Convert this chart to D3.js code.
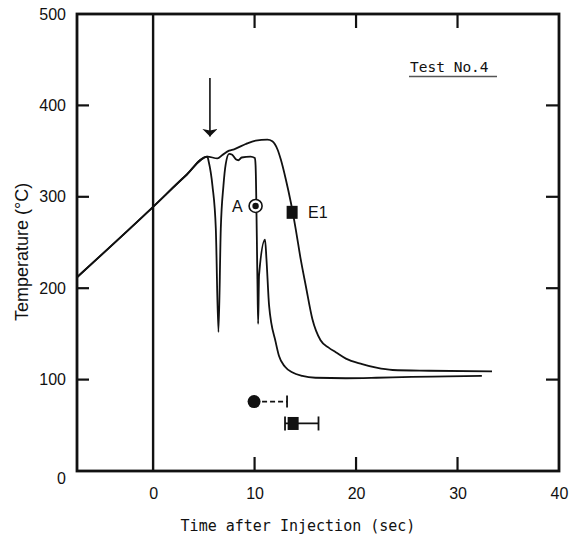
<!DOCTYPE html>
<html>
<head>
<meta charset="utf-8">
<script src="https://cdn.jsdelivr.net/npm/d3@7"></script>
<style>
  body { margin: 0; background: #fff; }
  svg { display: block; }
  .tick text { font-family: "Liberation Sans", Arial, sans-serif; font-size: 16px; fill: #111; }
</style>
</head>
<body>
<svg width="580" height="546"></svg>
<script>
// shared heating ramp before injection splits the two traces
const riseT = [-7.5, 0, 3.2, 5.35];
const riseV = [212, 289, 323, 344];

// thermocouple A (lower trace)
const lowerT = [5.46, 5.85, 6.18, 6.44, 6.67, 6.93, 7.16, 7.49, 7.8, 8.15, 8.4, 8.73, 9.6, 10.03, 10.1,
  10.28, 10.35, 10.44, 11.03, 11.17, 11.43, 12.08, 12.4, 13.0, 13.7, 14.7, 16, 19, 22, 25.5, 29, 32.4];
const lowerV = [339.5, 312, 265, 152, 265, 312, 336, 347, 346, 341, 340, 343, 344, 342.5, 334,
  210, 161, 214, 253, 232, 181, 141, 126, 114, 108, 104, 102, 101.5, 102, 103, 103.5, 104];

// thermocouple E1 (upper trace)
const upperT = [6.34, 6.83, 7.49, 7.98, 9.13, 10.1, 11.26, 11.75, 12.25, 12.58, 13.07, 13.57, 14.05,
  14.54, 15.04, 15.7, 16.5, 17.3, 18, 19, 20.6, 22, 23.6, 27.2, 33.4];
const upperV = [342, 345.7, 350.5, 352, 357.8, 361.4, 362.5, 360.7, 352, 341, 319.5, 294, 265,
  232, 203, 166, 143, 135, 130, 123, 117, 113, 110.5, 109.7, 109];

// quench points and their spread bars
const pointLabels = ['A', 'E1'];
const pointT = [10.1, 13.7];
const pointV = [290, 283];
const barT = [9.95, 13.8];
const barLo = [9.95, 13.0];
const barHi = [13.2, 16.3];
const barV = [76, 52];

const arrowT = 5.6;
const arrowFrom = 430;
const arrowTo = 366;

const xTicks = [0, 10, 20, 30, 40];
const yTicks = [0, 100, 200, 300, 400, 500];

const [plotLeft, plotRight, plotTop, plotBottom] = [77, 559, 14, 471];

const svg = d3.select('svg');

const x = d3.scaleLinear().domain([-7.5, 40]).range([plotLeft, plotRight]);
const y = d3.scaleLinear().domain([0, 500]).range([plotBottom, plotTop]);

// tick labels (outside) and inward tick marks
svg.append('g')
    .attr('transform', `translate(${plotLeft},0)`)
    .call(d3.axisLeft(y).tickValues(yTicks).tickSize(0).tickPadding(11))
    .call(g => g.select('.domain').remove())
    .call(g => g.selectAll('.tick').filter(d => d === 0).select('text').attr('dy', '0.75em'));

svg.append('g')
    .attr('transform', `translate(0,${plotBottom})`)
    .call(d3.axisBottom(x).tickValues(xTicks).tickSize(0).tickPadding(17))
    .call(g => g.select('.domain').remove());

const ticks = svg.append('g').attr('stroke', '#111').attr('stroke-width', 2.2);
const inner = [100, 200, 300, 400];
ticks.selectAll('.yl').data(inner).join('line')
    .attr('x1', plotLeft).attr('x2', plotLeft + 12)
    .attr('y1', d => y(d)).attr('y2', d => y(d));
ticks.selectAll('.yr').data(inner).join('line')
    .attr('x1', plotRight).attr('x2', plotRight - 13)
    .attr('y1', d => y(d)).attr('y2', d => y(d));
ticks.selectAll('.xb').data([10, 20, 30]).join('line')
    .attr('x1', d => x(d)).attr('x2', d => x(d))
    .attr('y1', plotBottom).attr('y2', plotBottom - 14);
ticks.selectAll('.xt').data([10, 20, 30]).join('line')
    .attr('x1', d => x(d)).attr('x2', d => x(d))
    .attr('y1', plotTop).attr('y2', plotTop + 14);

// frame and injection line
svg.append('rect')
    .attr('x', plotLeft).attr('y', plotTop)
    .attr('width', plotRight - plotLeft).attr('height', plotBottom - plotTop)
    .attr('fill', 'none').attr('stroke', '#111').attr('stroke-width', 2.8);

svg.append('line')
    .attr('x1', x(0)).attr('x2', x(0))
    .attr('y1', plotTop).attr('y2', plotBottom)
    .attr('stroke', '#111').attr('stroke-width', 2.4);

// traces
const line = d3.line()
    .x(d => x(d[0]))
    .y(d => y(d[1]))
    .curve(d3.curveMonotoneX);

const zipped = (ts, vs) => ts.map((t, i) => [t, vs[i]]);
const lower = zipped(riseT, riseV).concat(zipped(lowerT, lowerV));
const upper = zipped(riseT, riseV).concat(zipped(upperT, upperV));

svg.selectAll('.trace').data([lower, upper]).join('path')
    .attr('class', 'trace')
    .attr('d', line)
    .attr('fill', 'none')
    .attr('stroke', '#111')
    .attr('stroke-width', 1.8)
    .attr('stroke-linejoin', 'round');

// injection arrow
svg.append('defs').append('marker')
    .attr('id', 'head')
    .attr('viewBox', '0 0 10 20')
    .attr('refX', 10).attr('refY', 10)
    .attr('markerWidth', 8).attr('markerHeight', 15)
    .attr('markerUnits', 'userSpaceOnUse')
    .attr('orient', 'auto')
  .append('path')
    .attr('d', 'M0,0 L10,10 L0,20 L2,10 Z')
    .attr('fill', '#111');

svg.append('line')
    .attr('x1', x(arrowT)).attr('x2', x(arrowT))
    .attr('y1', y(arrowFrom)).attr('y2', y(arrowTo))
    .attr('stroke', '#111').attr('stroke-width', 1.6)
    .attr('marker-end', 'url(#head)');

// point A: ringed dot, E1: filled square
const pA = [x(pointT[0]), y(pointV[0])];
svg.append('circle').attr('cx', pA[0]).attr('cy', pA[1]).attr('r', 6.5)
    .attr('fill', '#fff').attr('stroke', '#111').attr('stroke-width', 1.6);
svg.append('circle').attr('cx', pA[0]).attr('cy', pA[1]).attr('r', 3.2).attr('fill', '#111');

const pE = [x(pointT[1]), y(pointV[1])];
svg.append('rect').attr('x', pE[0] - 5.5).attr('y', pE[1] - 6.5)
    .attr('width', 11).attr('height', 13).attr('fill', '#111');

const labelFont = '"Liberation Sans", Arial, sans-serif';
svg.append('text').attr('x', pA[0] - 13).attr('y', pA[1] + 6)
    .attr('text-anchor', 'end')
    .attr('font-family', labelFont).attr('font-size', 16).attr('fill', '#111')
    .text(pointLabels[0]);
svg.append('text').attr('x', pE[0] + 16).attr('y', pE[1] + 6)
    .attr('font-family', labelFont).attr('font-size', 16).attr('fill', '#111')
    .text(pointLabels[1]);

// spread bars near the bottom
const bars = svg.append('g').attr('stroke', '#111').attr('stroke-width', 1.8);
bars.append('line')
    .attr('x1', x(barLo[0])).attr('x2', x(barHi[0]))
    .attr('y1', y(barV[0])).attr('y2', y(barV[0]))
    .attr('stroke-dasharray', '5,3');
bars.append('line')
    .attr('x1', x(barHi[0])).attr('x2', x(barHi[0]))
    .attr('y1', y(barV[0]) - 6).attr('y2', y(barV[0]) + 6);
bars.append('line')
    .attr('x1', x(barLo[1])).attr('x2', x(barHi[1]))
    .attr('y1', y(barV[1])).attr('y2', y(barV[1]));
bars.selectAll('.cap').data([barLo[1], barHi[1]]).join('line')
    .attr('x1', d => x(d)).attr('x2', d => x(d))
    .attr('y1', y(barV[1]) - 7).attr('y2', y(barV[1]) + 7);

svg.append('circle').attr('cx', x(barT[0])).attr('cy', y(barV[0])).attr('r', 6.5).attr('fill', '#111');
svg.append('rect').attr('x', x(barT[1]) - 5.5).attr('y', y(barV[1]) - 6.5)
    .attr('width', 11).attr('height', 13).attr('fill', '#111');

// titles
const mono = '"DejaVu Sans Mono", "Liberation Mono", monospace';
svg.append('text')
    .attr('x', 298).attr('y', 531)
    .attr('text-anchor', 'middle')
    .attr('font-family', mono).attr('font-size', 15).attr('fill', '#111')
    .text('Time after Injection (sec)');

svg.append('text')
    .attr('transform', 'translate(28,252) rotate(-90)')
    .attr('text-anchor', 'middle')
    .attr('font-family', labelFont).attr('font-size', 18).attr('fill', '#111')
    .text('Temperature (°C)');

svg.append('text')
    .attr('x', 410).attr('y', 72)
    .attr('font-family', mono).attr('font-size', 14.5).attr('fill', '#111')
    .text('Test No.4');
svg.append('line')
    .attr('x1', 409).attr('x2', 497)
    .attr('y1', 76.5).attr('y2', 76.5)
    .attr('stroke', '#555').attr('stroke-width', 1.5);
</script>
</body>
</html>
